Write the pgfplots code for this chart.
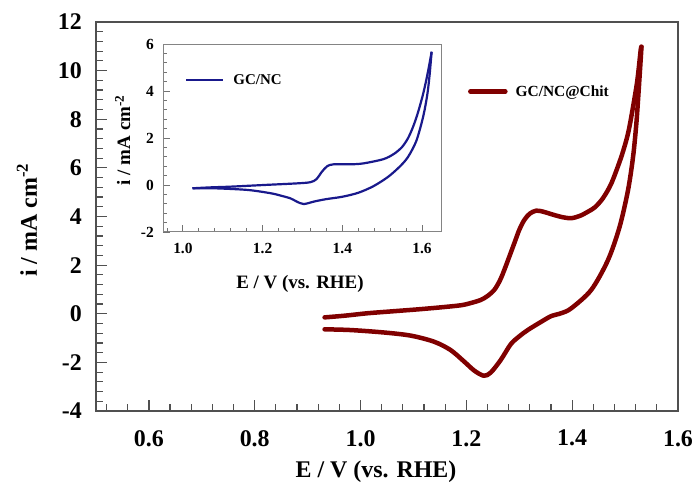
\documentclass[border=0pt]{standalone}
\usepackage{fontspec}
\setmainfont{Liberation Serif}
\usepackage{pgfplots}
\pgfplotsset{compat=1.18}
\definecolor{cvred}{RGB}{128,0,0}
\definecolor{cvblue}{RGB}{25,25,140}
\definecolor{frame}{RGB}{80,80,80}
\begin{document}
\begin{tikzpicture}
\path[use as bounding box] (-96bp,-81bp) rectangle (600bp,411bp);
\begin{axis}[
  at={(0,0)}, anchor=south west, scale only axis,
  width=582bp, height=389bp,
  xmin=0.5, xmax=1.6, ymin=-4, ymax=12,
  xtick={0.6,0.8,1.0,1.2,1.4,1.6},
  ytick={-4,-2,0,2,4,6,8,10,12},
  minor x tick num=4, minor y tick num=4,
  extra x ticks={0.52,0.56}, extra x tick style={major tick length=7bp, xticklabels={}},
  tick pos=left, tick align=inside,
  major tick length=11bp, minor tick length=7bp,
  every tick/.style={draw=frame, line width=1.2bp},
  axis line style={draw=frame, line width=1.4bp},
  /pgf/number format/assume math mode=true,
  tick label style={font=\fontsize{24}{24}\selectfont\bfseries, inner sep=0pt},
  yticklabel style={xshift=-14bp},
  xticklabel style={yshift=-19bp, /pgf/number format/fixed, /pgf/number format/fixed zerofill, /pgf/number format/precision=1},
  xlabel={E / V (vs. RHE)},
  ylabel={i / mA cm\textsuperscript{-2}},
  label style={font=\fontsize{24}{24}\selectfont\bfseries, inner sep=0pt},
  xlabel style={at={(axis description cs:0.481,-0.1697)}, anchor=base},
  ylabel style={at={(axis description cs:-0.1014,0.491)}, anchor=base},
  legend style={draw=none, fill=none, at={(0.639,0.821)}, anchor=west, inner sep=0pt,
    nodes={inner sep=0pt, font=\fontsize{15.5}{16}\selectfont\bfseries}, column sep=8bp},
  legend image code/.code={\draw[#1] (2bp,0bp) -- (37bp,0bp);},
]
\addplot[cvred, line width=4.5bp, line cap=round, line join=round, smooth] coordinates {
(0.932,-0.15) (0.97,-0.08) (1.013,0.02) (1.06,0.10) (1.108,0.18) (1.15,0.26) (1.19,0.35)
(1.21,0.45) (1.2275,0.57) (1.24,0.73) (1.2527,0.98) (1.263,1.35) (1.2717,1.80) (1.2906,2.90)
(1.300,3.45) (1.3096,3.86) (1.320,4.12) (1.332,4.24) (1.345,4.20) (1.360,4.10) (1.380,3.98)
(1.398,3.93) (1.415,4.03) (1.430,4.20) (1.443,4.38) (1.458,4.75) (1.474,5.36) (1.4929,6.46)
(1.5056,7.42) (1.5151,8.52) (1.5232,9.61) (1.5295,10.85) (1.531,10.98)
};
\addlegendentry{GC/NC@Chit}
\addplot[cvred, line width=4.5bp, line cap=round, line join=round, smooth, forget plot] coordinates {
(1.531,10.98) (1.5257,9.20) (1.5213,7.83) (1.5151,6.46) (1.5056,5.09) (1.4897,3.58)
(1.4677,2.21) (1.436,0.98) (1.398,0.22) (1.379,0.02) (1.360,-0.10) (1.34,-0.35) (1.316,-0.67)
(1.30,-0.93) (1.284,-1.25) (1.265,-1.90) (1.246,-2.42) (1.233,-2.55) (1.215,-2.34) (1.196,-1.97)
(1.170,-1.49) (1.139,-1.15) (1.095,-0.90) (1.044,-0.77) (0.981,-0.67) (0.932,-0.64)
};
\end{axis}
\begin{axis}[
  at={(67bp,179bp)}, anchor=south west, scale only axis,
  width=279bp, height=188bp,
  xmin=0.95, xmax=1.65, ymin=-2, ymax=6,
  xtick={1.0,1.2,1.4,1.6},
  ytick={-2,0,2,4,6},
  minor x tick num=4, minor y tick num=4,
  extra x ticks={0.96}, extra x tick style={major tick length=4bp, xticklabels={}},
  tick pos=left, tick align=inside,
  major tick length=6.5bp, minor tick length=4bp,
  every tick/.style={draw=frame!80, line width=0.9bp},
  axis line style={draw=frame!70, line width=1bp},
  axis background/.style={fill=white},
  /pgf/number format/assume math mode=true,
  tick label style={font=\fontsize{15.5}{16}\selectfont\bfseries, inner sep=0pt},
  yticklabel style={xshift=-9bp},
  xticklabel style={yshift=-11bp, /pgf/number format/fixed, /pgf/number format/fixed zerofill, /pgf/number format/precision=1},
  xlabel={E / V (vs. RHE)},
  ylabel={i / mA cm\textsuperscript{-2}},
  label style={font=\fontsize{19}{19}\selectfont\bfseries, inner sep=0pt},
  xlabel style={at={(axis description cs:0.491,-0.298)}, anchor=base},
  ylabel style={at={(axis description cs:-0.118,0.489)}, anchor=base},
  legend style={draw=none, fill=none, at={(0.079,0.809)}, anchor=west, inner sep=0pt,
    nodes={inner sep=0pt, font=\fontsize{15}{15}\selectfont\bfseries}, column sep=9bp},
  legend image code/.code={\draw[#1] (0bp,0bp) -- (37bp,0bp);},
]
\addplot[cvblue, line width=2.2bp, line join=round, smooth] coordinates {
(1.024,-0.14) (1.07,-0.10) (1.12,-0.07) (1.203,0.0) (1.287,0.07) (1.32,0.12) (1.335,0.25)
(1.349,0.57) (1.362,0.80) (1.378,0.88) (1.42,0.88) (1.453,0.92) (1.503,1.10) (1.53,1.33)
(1.55,1.62) (1.565,2.0) (1.578,2.5) (1.590,3.10) (1.603,3.90) (1.614,4.75) (1.624,5.67)
};
\addlegendentry{GC/NC}
\addplot[cvblue, line width=2.2bp, line join=round, smooth, forget plot] coordinates {
(1.624,5.67) (1.619,4.7) (1.614,3.95) (1.607,3.25) (1.599,2.65) (1.585,1.85) (1.565,1.20)
(1.545,0.80) (1.515,0.35) (1.478,-0.05) (1.44,-0.33) (1.40,-0.50) (1.36,-0.60) (1.33,-0.70)
(1.303,-0.81) (1.285,-0.70) (1.27,-0.57) (1.245,-0.45) (1.22,-0.35) (1.162,-0.21) (1.078,-0.14) (1.024,-0.14)
};
\end{axis}
\end{tikzpicture}
\end{document}
